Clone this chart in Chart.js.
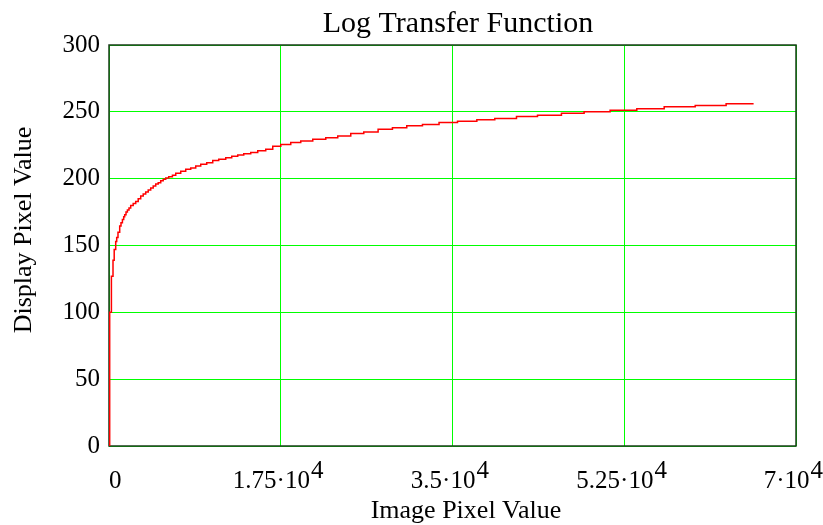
<!DOCTYPE html>
<html>
<head>
<meta charset="utf-8">
<script src="https://cdn.jsdelivr.net/npm/chart.js@4/dist/chart.umd.min.js"></script>
<style>
  html, body { margin: 0; padding: 0; background: #fff; }
  #wrap { width: 823px; height: 525px; }
</style>
</head>
<body>
<div id="wrap"><canvas id="chartLog" width="823" height="525"></canvas></div>
<script>
// Log Transfer Function - step points
const imageValues = [0, 70, 245, 408, 530, 683, 785, 917, 1090, 1223, 1366, 1498, 1600, 1733, 1875,
  2038, 2211, 2466, 2721, 2976, 3231, 3486, 3740, 3995, 4250, 4505, 4760, 5015, 5270, 5524, 5779,
  6085, 6462, 6800, 7308, 7817, 8327, 8836, 9346, 9957, 10569, 11180, 11894, 12505, 13117, 13729,
  14442, 15155, 15971, 16684, 17500, 18519, 19538, 20761, 22086, 23309, 24634, 25959,
  27420, 28880, 30340, 31940, 33630, 35510, 37480, 39310, 41520, 43660, 46100, 48410, 51060,
  53780, 56570, 59730, 62880, 65680];
const displayValues = [0, 100, 127, 139, 147, 153, 156, 160, 164.5, 167, 169.5, 171.5, 173, 175, 176.5,
  178, 180, 181.5, 183, 185, 187, 188.5, 190, 191.5, 193, 194.5, 196, 197, 198.5, 199.5, 200.5,
  201.5, 202.5, 204, 205.5, 207, 208, 209.5, 210.7, 212, 213.5, 214.5, 215.7, 216.7, 217.7, 218.6,
  219.5, 220.8, 222, 224.3, 225.5, 227, 228.2, 229.5, 230.7, 232, 233.7, 235,
  237, 238, 239.5, 240.5, 242, 243, 244, 245, 246.5, 247.5, 249, 250, 251.2,
  252.3, 253.8, 254.8, 256, 256];
const xTickLabels = ['0', '1.75·10', '3.5·10', '5.25·10', '7·10'];
const xExponent = '4';

const serif = '"Liberation Serif", "Times New Roman", serif';
const expGap = '   '; // room kept for the exponent

const points = imageValues.map((x, i) => ({ x: x, y: displayValues[i] }));

// frame round the plot area, plus the titles and exponents
const extras = {
  id: 'extras',
  beforeDatasetsDraw(chart) {
    const a = chart.chartArea, ctx = chart.ctx;
    ctx.save();
    ctx.strokeStyle = '#1b3b1b';
    ctx.lineWidth = 1.5;
    ctx.strokeRect(a.left, a.top, a.right - a.left, a.bottom - a.top);
    ctx.restore();
  },
  afterDraw(chart) {
    const ctx = chart.ctx, xs = chart.scales.x;
    ctx.save();
    ctx.fillStyle = '#000';
    ctx.textAlign = 'center';
    ctx.textBaseline = 'alphabetic';
    ctx.font = '30px ' + serif;
    ctx.fillText('Log Transfer Function', 458, 32);
    ctx.font = '26px ' + serif;
    ctx.fillText('Image Pixel Value', 466, 518);
    ctx.save();
    ctx.translate(31, 230);
    ctx.rotate(-Math.PI / 2);
    ctx.fillText('Display Pixel Value', 0, 0);
    ctx.restore();
    // superscript exponents after the x tick labels
    ctx.font = '25px ' + serif;
    ctx.textAlign = 'left';
    ctx.textBaseline = 'middle';
    xs.ticks.forEach((t, i) => {
      const lab = xTickLabels[i];
      if (!lab || lab === '0') return;
      const px = xs.getPixelForTick(i);
      const left = px - ctx.measureText(lab + expGap).width / 2;
      ctx.fillText(xExponent, left + ctx.measureText(lab).width + 1, xs.top + 25);
    });
    ctx.restore();
  }
};

new Chart(document.getElementById('chartLog'), {
  type: 'line',
  data: {
    datasets: [{
      data: points,
      borderColor: '#ff0000',
      borderWidth: 1.5,
      pointRadius: 0,
      stepped: true,
      fill: false
    }]
  },
  options: {
    responsive: false,
    animation: false,
    layout: { padding: { top: 45, right: 27, left: 0, bottom: 0 } },
    plugins: {
      legend: { display: false },
      tooltip: { enabled: false }
    },
    scales: {
      x: {
        type: 'linear',
        min: 0,
        max: 70000,
        afterFit(s) { s.height = 79; s.paddingLeft = 0; s.paddingRight = 0; },
        afterBuildTicks(s) {
          s.ticks = [0, 17500, 35000, 52500, 70000].map(v => ({ value: v }));
        },
        ticks: {
          color: '#000',
          font: { family: serif, size: 25 },
          padding: 20,
          maxRotation: 0,
          callback: (v, i) => (i === 0 ? '  ' : '') + xTickLabels[i] + (i > 0 ? expGap : '')
        },
        grid: { color: 'rgb(0,255,0)', lineWidth: 1, drawTicks: false },
        border: { display: false }
      },
      y: {
        min: 0,
        max: 300,
        afterFit(s) { s.width = 109; s.paddingTop = 0; s.paddingBottom = 0; },
        ticks: {
          stepSize: 50,
          color: '#000',
          font: { family: serif, size: 25 },
          padding: 9
        },
        grid: { color: 'rgb(0,255,0)', lineWidth: 1, drawTicks: false },
        border: { display: false }
      }
    }
  },
  plugins: [extras]
});
</script>
</body>
</html>
